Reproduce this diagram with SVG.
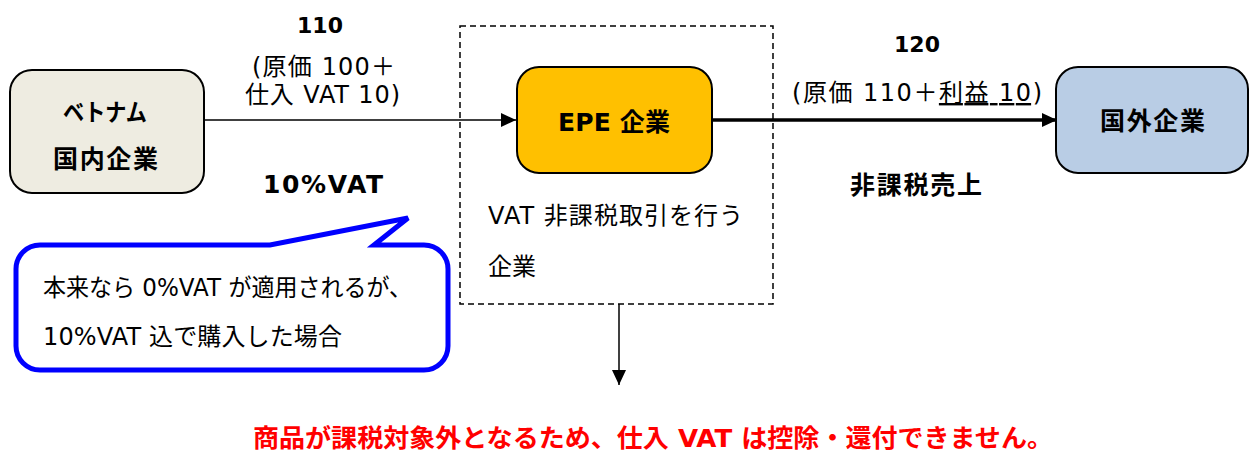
<svg xmlns="http://www.w3.org/2000/svg" width="1250" height="452" viewBox="0 0 1250 452">
<style>
text{font-family:"DejaVu Sans","Noto Sans CJK JP",sans-serif;fill:#000}
.b{font-weight:bold}
.n{font-size:24px}
.c{font-size:24px}
.lb{font-size:25px;font-weight:bold}
.node{stroke:#000;stroke-width:2}
.conn{stroke:#000;fill:none}
</style>
<defs>
<marker id="ah" markerUnits="userSpaceOnUse" markerWidth="16" markerHeight="16" viewBox="0 0 15 16" refX="15" refY="8" orient="auto">
<path d="M0,1 L15,8 L0,15 Z" fill="#000"/>
</marker>
</defs>
<rect width="1250" height="452" fill="#fff"/>

<g id="dashed-region">
<rect x="460" y="26" width="313" height="278" fill="none" stroke="#000" stroke-width="1.5" stroke-dasharray="6,4"/>
<text class="n" x="488" y="224" textLength="255" lengthAdjust="spacing">VAT 非課税取引を行う</text>
<text class="n" x="488" y="275">企業</text>
</g>

<g id="connectors">
<line class="conn" x1="204" y1="120" x2="516" y2="120" stroke-width="1.5" marker-end="url(#ah)"/>
<line class="conn" x1="712" y1="120" x2="1057" y2="120" stroke-width="3.5" marker-end="url(#ah)"/>
<line class="conn" x1="619" y1="304" x2="619" y2="385" stroke-width="1.5" marker-end="url(#ah)"/>
</g>

<g id="node-vietnam">
<rect class="node" x="10" y="70" width="194" height="123" rx="22" fill="#EEECE1"/>
<text class="b" x="63" y="121" font-size="24" textLength="84" lengthAdjust="spacingAndGlyphs">ベトナム</text>
<text class="lb" x="53" y="168" textLength="105" lengthAdjust="spacing">国内企業</text>
</g>

<g id="node-epe">
<rect class="node" x="517" y="67" width="195" height="106" rx="22" fill="#FFC000"/>
<text class="lb" x="558" y="131" textLength="112" lengthAdjust="spacing">EPE 企業</text>
</g>

<g id="node-foreign">
<rect class="node" x="1056" y="67" width="192" height="106" rx="22" fill="#B9CDE5"/>
<text class="lb" x="1100" y="130" textLength="105" lengthAdjust="spacing">国外企業</text>
</g>

<g id="label-left">
<text class="b" x="320" y="33" font-size="22" text-anchor="middle">110</text>
<text class="n" x="252" y="75" textLength="143" lengthAdjust="spacing">(原価 100＋</text>
<text class="n" x="245" y="103" textLength="155" lengthAdjust="spacing">仕入 VAT 10)</text>
<text class="lb" x="263" y="193" textLength="120" lengthAdjust="spacing">10%VAT</text>
</g>

<g id="label-right">
<text class="b" x="917" y="52" font-size="22" text-anchor="middle">120</text>
<text class="n" x="792" y="101" textLength="250" lengthAdjust="spacing">(原価 110＋<tspan text-decoration="underline">利益 10</tspan>)</text>
<text class="lb" x="850" y="194" textLength="132" lengthAdjust="spacing">非課税売上</text>
</g>

<g id="callout">
<path d="M40,245 L270,245 L408,218 L374,245 L424,245 A24,24 0 0 1 448,269 L448,346 A24,24 0 0 1 424,370 L40,370 A24,24 0 0 1 16,346 L16,269 A24,24 0 0 1 40,245 Z" fill="#fff" stroke="#0000FF" stroke-width="5" stroke-linejoin="miter"/>
<text class="c" x="43" y="296" textLength="369" lengthAdjust="spacingAndGlyphs">本来なら 0%VAT が適用されるが、</text>
<text class="c" x="43" y="345" textLength="299" lengthAdjust="spacing">10%VAT 込で購入した場合</text>
</g>

<g id="conclusion">
<text class="b" x="253" y="447" font-size="25" textLength="800" lengthAdjust="spacingAndGlyphs" style="fill:#FF0000">商品が課税対象外となるため、仕入 VAT は控除・還付できません。</text>
</g>
</svg>
